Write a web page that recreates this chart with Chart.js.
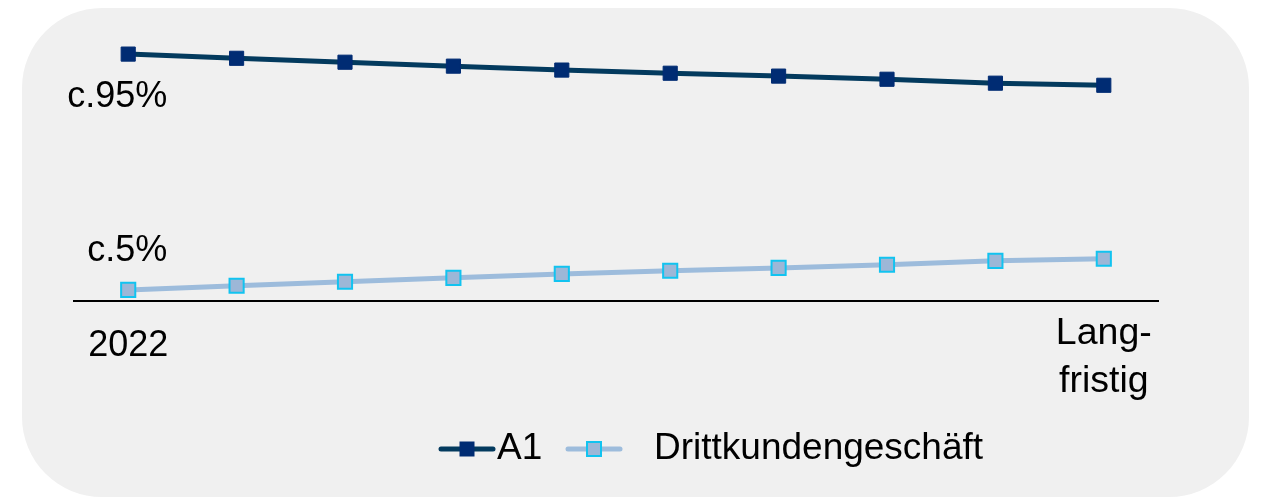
<!DOCTYPE html>
<html>
<head>
<meta charset="utf-8">
<script src="https://cdn.jsdelivr.net/npm/chart.js@4.4.1/dist/chart.umd.min.js"></script>
<style>
  html, body { margin: 0; padding: 0; background: #ffffff; }
  #wrap { position: relative; width: 1269px; height: 499px; overflow: hidden; }
  #panel { position: absolute; left: 22px; top: 8px; width: 1227px; height: 489px;
           background: #f0f0f0; border-radius: 80px; }
  #lineChart { position: absolute; left: 0; top: 0; }
</style>
</head>
<body>
<div id="wrap">
  <div id="panel"></div>
  <canvas id="lineChart" width="1269" height="499"></canvas>
</div>
<script>
// values (share in %)
const years = ['2022', '', '', '', '', '', '', '', '', ['Lang-', 'fristig']];
const a1Share = [95, 93.4, 91.9, 90.4, 88.9, 87.7, 86.6, 85.4, 83.9, 83.1];
const thirdPartyShare = [5, 6.6, 8.1, 9.6, 11.1, 12.3, 13.4, 14.6, 16.1, 16.9];
const seriesNames = ['A1', 'Drittkundengeschäft'];
const startLabels = ['c.95%', 'c.5%'];

const FONT = '"Liberation Sans", Arial, sans-serif';

// little text next to the first point of each line
const startNotes = {
  id: 'startNotes',
  afterDatasetsDraw(chart) {
    const ctx = chart.ctx;
    ctx.save();
    ctx.font = '36px ' + FONT;
    ctx.fillStyle = '#000';
    ctx.textAlign = 'right';
    ctx.textBaseline = 'middle';
    chart.data.datasets.forEach((ds, i) => {
      const pt = chart.getDatasetMeta(i).data[0];
      const dy = i === 0 ? 43 : -39;
      ctx.fillText(startLabels[i], pt.x + 39, pt.y + dy);
    });
    ctx.restore();
  }
};

// legend with a line sample and a square marker
const lineLegend = {
  id: 'lineLegend',
  afterDraw(chart) {
    const ctx = chart.ctx;
    const y = 449;
    const items = [{ cx: 467, tx: 497 }, { cx: 594, tx: 654 }];
    ctx.save();
    chart.data.datasets.forEach((ds, i) => {
      const it = items[i];
      ctx.strokeStyle = ds.borderColor;
      ctx.lineWidth = 5;
      ctx.lineCap = 'round';
      ctx.beginPath();
      ctx.moveTo(it.cx - 26, y);
      ctx.lineTo(it.cx + 26, y);
      ctx.stroke();
      ctx.fillStyle = ds.pointBackgroundColor;
      ctx.fillRect(it.cx - 7, y - 7, 14, 14);
      ctx.strokeStyle = ds.pointBorderColor;
      ctx.lineWidth = ds.pointBorderWidth;
      ctx.strokeRect(it.cx - 7, y - 7, 14, 14);
      ctx.fillStyle = '#000';
      ctx.font = '37px ' + FONT;
      ctx.textAlign = 'left';
      ctx.textBaseline = 'middle';
      ctx.fillText(ds.label, it.tx, y);
    });
    ctx.restore();
  }
};

const ctx = document.getElementById('lineChart').getContext('2d');
new Chart(ctx, {
  type: 'line',
  data: {
    labels: years,
    datasets: [{
      label: seriesNames[0],
      data: a1Share,
      borderColor: '#033a5e',
      borderWidth: 5,
      pointStyle: 'rect',
      pointRadius: 10,
      pointBackgroundColor: '#002c73',
      pointBorderColor: '#002c73',
      pointBorderWidth: 1,
      fill: false,
      tension: 0,
      clip: false
    }, {
      label: seriesNames[1],
      data: thirdPartyShare,
      borderColor: '#9dbcdc',
      borderWidth: 5,
      pointStyle: 'rect',
      pointRadius: 10,
      pointBackgroundColor: '#9db7d7',
      pointBorderColor: '#12c3f0',
      pointBorderWidth: 2,
      fill: false,
      tension: 0,
      clip: false
    }]
  },
  options: {
    responsive: false,
    animation: false,
    layout: { padding: { left: 74, right: 111, top: 41, bottom: 84 } },
    plugins: {
      legend: { display: false },
      tooltip: { enabled: false }
    },
    scales: {
      x: {
        type: 'category',
        offset: true,
        grid: { display: false, drawTicks: false },
        border: { display: true, color: '#000', width: 2 },
        ticks: {
          padding: 9,
          maxRotation: 0,
          autoSkip: false,
          color: '#000',
          font: (c) => c.index === 0
            ? { family: FONT, size: 36, lineHeight: 2 }
            : { family: FONT, size: 37.5, lineHeight: 1.28 }
        }
      },
      y: {
        display: false,
        min: 0.77,
        max: 100
      }
    }
  },
  plugins: [startNotes, lineLegend]
});
</script>
</body>
</html>
